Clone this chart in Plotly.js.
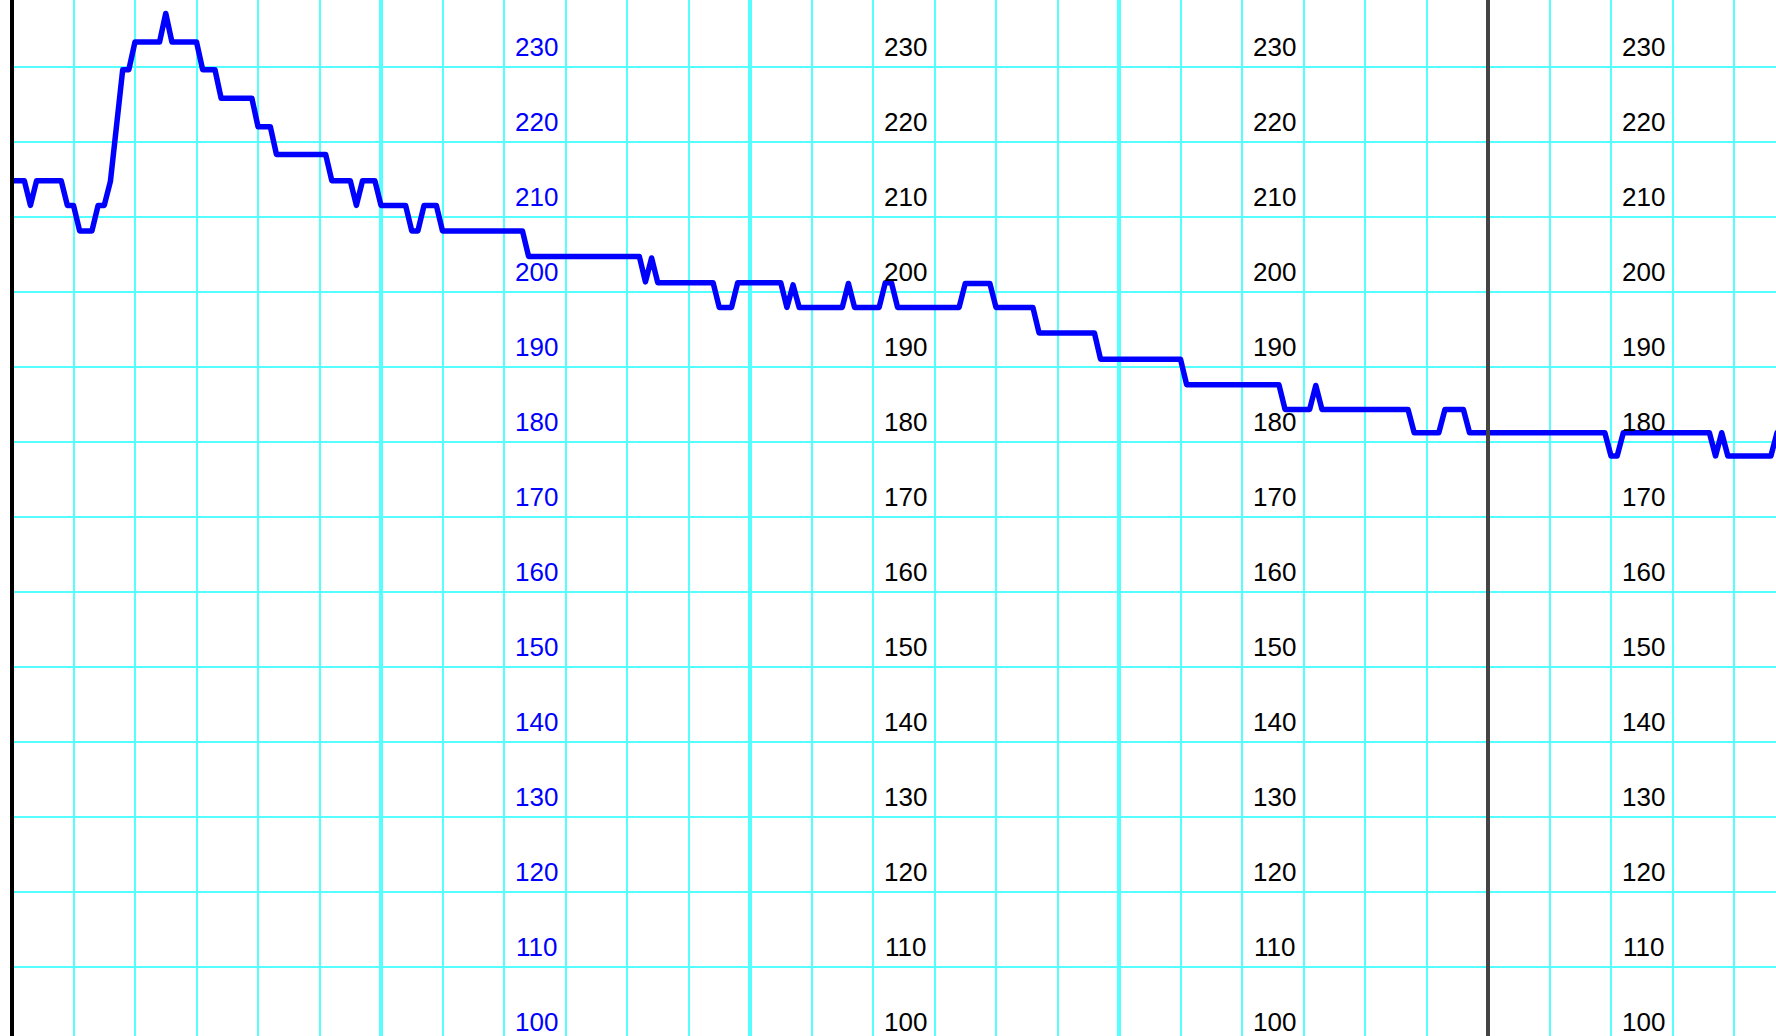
<!DOCTYPE html>
<html>
<head>
<meta charset="utf-8">
<script src="https://cdn.plot.ly/plotly-3.0.1.min.js"></script>
<style>
  html, body { margin: 0; padding: 0; background: #ffffff; }
  #chart { width: 1776px; height: 1036px; }
  .js-line { stroke-linejoin: round !important; stroke-linecap: round !important; }
</style>
</head>
<body>
<div id="chart"></div>
<script>
// Heart-rate trace, one sample per second
const fhrValues = [
  214.8,214.8,214.8,211.5,214.8,214.8,214.8,214.8,214.8,211.5,
  211.5,208.1,208.1,208.1,211.5,211.5,214.7,222.2,229.6,229.6,
  233.3,233.3,233.3,233.3,233.3,237.1,233.3,233.3,233.3,233.3,
  233.3,229.6,229.6,229.6,225.8,225.8,225.8,225.8,225.8,225.8,
  222.0,222.0,222.0,218.3,218.3,218.3,218.3,218.3,218.3,218.3,
  218.3,218.3,214.8,214.8,214.8,214.8,211.5,214.8,214.8,214.8,
  211.5,211.5,211.5,211.5,211.5,208.1,208.1,211.5,211.5,211.5,
  208.1,208.1,208.1,208.1,208.1,208.1,208.1,208.1,208.1,208.1,
  208.1,208.1,208.1,208.1,204.7,204.7,204.7,204.7,204.7,204.7,
  204.7,204.7,204.7,204.7,204.7,204.7,204.7,204.7,204.7,204.7,
  204.7,204.7,204.7,201.3,204.5,201.2,201.2,201.2,201.2,201.2,
  201.2,201.2,201.2,201.2,201.2,197.9,197.9,197.9,201.2,201.2,
  201.2,201.2,201.2,201.2,201.2,201.2,197.9,200.9,197.9,197.9,
  197.9,197.9,197.9,197.9,197.9,197.9,201.1,197.9,197.9,197.9,
  197.9,197.9,201.2,201.2,197.9,197.9,197.9,197.9,197.9,197.9,
  197.9,197.9,197.9,197.9,197.9,201.1,201.1,201.1,201.1,201.1,
  197.9,197.9,197.9,197.9,197.9,197.9,197.9,194.5,194.5,194.5,
  194.5,194.5,194.5,194.5,194.5,194.5,194.5,191.0,191.0,191.0,
  191.0,191.0,191.0,191.0,191.0,191.0,191.0,191.0,191.0,191.0,
  191.0,187.6,187.6,187.6,187.6,187.6,187.6,187.6,187.6,187.6,
  187.6,187.6,187.6,187.6,187.6,187.6,187.6,184.3,184.3,184.3,
  184.3,184.3,187.5,184.3,184.3,184.3,184.3,184.3,184.3,184.3,
  184.3,184.3,184.3,184.3,184.3,184.3,184.3,184.3,181.2,181.2,
  181.2,181.2,181.2,184.3,184.3,184.3,184.3,181.2,181.2,181.2,
  181.2,181.2,181.2,181.2,181.2,181.2,181.2,181.2,181.2,181.2,
  181.2,181.2,181.2,181.2,181.2,181.2,181.2,181.2,181.2,181.2,
  178.1,178.1,181.2,181.2,181.2,181.2,181.2,181.2,181.2,181.2,
  181.2,181.2,181.2,181.2,181.2,181.2,181.2,178.1,181.2,178.1,
  178.1,178.1,178.1,178.1,178.1,178.1,178.1,181.2
];
const sampleStart = 0;   // seconds
const sampleStep = 1;    // seconds per sample

// Scale labels printed on the paper
const labelValues = [100,110,120,130,140,150,160,170,180,190,200,210,220,230];
const labelColumns = [85,145,205,265];
const labelColors = ['#0000ff','#000000','#000000','#000000'];

// Special vertical lines: start line and marker line(s)
const startLine = [0];
const markerLines = [240];

const X_MIN = -1.951, X_MAX = 286.83;
const Y_MIN = 100.76, Y_MAX = 238.89;
const CYAN = '#55ffff';

const trace = {
  type: 'scatter',
  mode: 'lines',
  y: fhrValues,
  x0: sampleStart,
  dx: sampleStep,
  line: { color: '#0000ff', width: 5.5 },
  hoverinfo: 'skip'
};

const annotations = [];
labelColumns.forEach((col, i) => {
  labelValues.forEach(v => {
    annotations.push({
      x: col, xref: 'x',
      y: (v - Y_MIN) / (Y_MAX - Y_MIN), yref: 'paper',
      text: String(v),
      showarrow: false,
      xanchor: 'center', yanchor: 'middle',
      xshift: 2, yshift: 20,
      font: { family: 'Liberation Sans, Arial, sans-serif', size: 26, color: labelColors[i] }
    });
  });
});

const shapes = [];
// blank margin left of the start line (grid does not extend there)
startLine.forEach(t => {
  shapes.push({
    type: 'rect', xref: 'x', yref: 'paper',
    x0: X_MIN, x1: t, y0: 0, y1: 1,
    fillcolor: '#ffffff', line: { width: 0 },
    layer: 'above'
  });
  shapes.push({
    type: 'line', xref: 'x', yref: 'paper',
    x0: t, x1: t, y0: 0, y1: 1,
    line: { color: '#000000', width: 4 },
    layer: 'above'
  });
});
markerLines.forEach(t => {
  shapes.push({
    type: 'line', xref: 'x', yref: 'paper',
    x0: t, x1: t, y0: 0, y1: 1,
    line: { color: '#444444', width: 4 },
    layer: 'above'
  });
});

const layout = {
  width: 1776, height: 1036,
  margin: { l: 0, r: 0, t: 0, b: 0, pad: 0 },
  paper_bgcolor: '#ffffff',
  plot_bgcolor: '#ffffff',
  showlegend: false,
  xaxis: {
    range: [X_MIN, X_MAX],
    showticklabels: false, ticks: '',
    showgrid: true, tick0: 0, dtick: 60,
    gridcolor: CYAN, gridwidth: 4,
    minor: { tick0: 0, dtick: 10, showgrid: true, gridcolor: CYAN, gridwidth: 2, ticks: '' },
    zeroline: false,
    showline: false, fixedrange: true
  },
  yaxis: {
    range: [Y_MIN, Y_MAX],
    showticklabels: false, ticks: '',
    showgrid: true, tick0: 0, dtick: 10,
    gridcolor: CYAN, gridwidth: 2,
    zeroline: false, showline: false, fixedrange: true
  },
  annotations: annotations,
  shapes: shapes
};

Plotly.newPlot('chart', [trace], layout, { staticPlot: true, displayModeBar: false });
</script>
</body>
</html>
